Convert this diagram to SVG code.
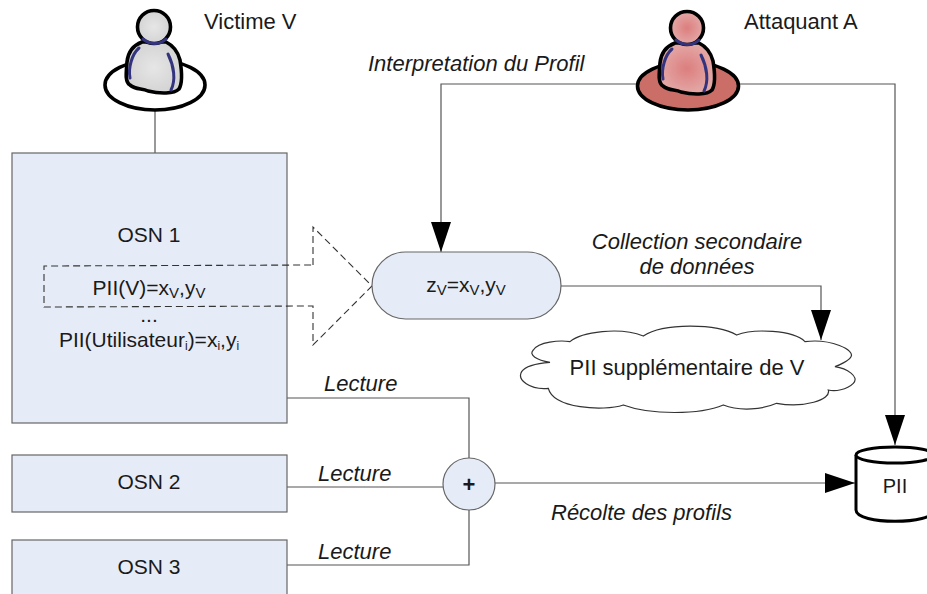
<svg xmlns="http://www.w3.org/2000/svg" width="927" height="594" viewBox="0 0 927 594">
<style>
text{font-family:"Liberation Sans",Arial,sans-serif;font-size:22px;fill:#1a1a1a}
.m{text-anchor:middle}
.i{font-style:italic}
.n{font-size:21px}
.u{font-size:20px}
.s{font-size:15px}
.t{font-size:12px}
.box{fill:#e6ecf7;stroke:#666;stroke-width:1.2}
.c{fill:none;stroke:#555;stroke-width:1.2}
.d{fill:none;stroke:#333;stroke-width:1.1;stroke-dasharray:7 4}
.o{stroke:#000;stroke-width:3.6;stroke-linejoin:round}
.b{fill:none;stroke:#34347e;stroke-width:3;stroke-linecap:round}
</style>
<defs>
<marker id="a" markerUnits="userSpaceOnUse" markerWidth="32" markerHeight="22" refX="30" refY="10" orient="auto"><path d="M0,0L30,10L0,20Z" fill="#000"/></marker>
<radialGradient id="g1"><stop offset="0" stop-color="#e6e6e6"/><stop offset="1" stop-color="#d4d4d4"/></radialGradient>
<radialGradient id="g2"><stop offset="0" stop-color="#dc7e7e"/><stop offset="1" stop-color="#e3a8a6"/></radialGradient>
<g id="fig">
<path class="o" d="M-12,-2C-20,1 -26,8 -27,18C-28,30 -29,38 -24,41C-18,46 -12,44 -6,47C6,50 20,50 25,45C28,40 28,28 26,16C24,8 20,2 12,-2Z"/>
<ellipse class="o" cx="0" cy="-17" rx="16.500" ry="16.500"/>
<path class="b" d="M-11,-5C-4,1 6,1 12,-5M-15,4C-22,10 -26,24 -24,34M14,10C20,22 22,36 17,46"/>
</g>
</defs>
<g id="connectors">
<path class="c" d="M155,110V153"/>
<path class="c" d="M640,84H441V252" marker-end="url(#a)"/>
<path class="c" d="M738,84H895V445" marker-end="url(#a)"/>
<path class="c" d="M561,286H821V340" marker-end="url(#a)"/>
<path class="c" d="M287,398H469V458"/>
<path class="c" d="M287,487H443"/>
<path class="c" d="M287,565H469V510"/>
<path class="c" d="M495,483H855" marker-end="url(#a)"/>
</g>
<g id="osn1"><rect class="box" x="12" y="153" width="275" height="270"/>
<text class="m n" x="149" y="242">OSN 1</text>
<text class="m n" x="149" y="295">PII(V)=x<tspan class="s" dy="3">V</tspan><tspan dy="-3">,y</tspan><tspan class="s" dy="3">V</tspan></text>
<text class="m n" x="149" y="322">...</text>
<text class="m n" x="149" y="347">PII(Utilisateur<tspan class="t" dy="3">i</tspan><tspan dy="-3">)=x</tspan><tspan class="t" dy="3">i</tspan><tspan dy="-3">,y</tspan><tspan class="t" dy="3">i</tspan></text></g>
<g id="osn2"><rect class="box" x="12" y="455" width="275" height="57"/><text class="m n" x="149" y="489">OSN 2</text></g>
<g id="osn3"><rect class="box" x="12" y="540" width="275" height="60"/><text class="m n" x="149" y="574">OSN 3</text></g>
<g id="extract"><path class="d" d="M313,265V227L372,286L313,345V306L44,307V266Z"/></g>
<g id="victime"><ellipse cx="155" cy="85" rx="50" ry="25" fill="#fff" stroke="#000" stroke-width="3.600"/><use href="#fig" x="154" y="44" fill="url(#g1)"/><text x="204" y="29">Victime V</text></g>
<g id="attaquant"><ellipse cx="688" cy="86" rx="50.500" ry="24" fill="#cc6e68" stroke="#000" stroke-width="3.600"/><use href="#fig" x="687" y="45" fill="url(#g2)"/><text x="744" y="29">Attaquant A</text></g>
<g id="zv"><rect class="box" x="372" y="252" width="189" height="67" rx="33.500"/><text class="m n" x="466" y="292">z<tspan class="s" dy="3">V</tspan><tspan dy="-3">=x</tspan><tspan class="s" dy="3">V</tspan><tspan dy="-3">,y</tspan><tspan class="s" dy="3">V</tspan></text></g>
<g id="cloud"><path transform="translate(510,300) scale(.3333)" fill="#fff" stroke="#333" stroke-width="3.600" d="M180,125C215,95 330,80 400,108C460,68 620,70 680,105C730,85 850,90 885,125C960,115 1040,150 1022,172C1015,182 990,195 975,200C1010,205 1050,230 1030,250C1010,270 975,275 955,270C965,300 880,325 800,310C760,328 690,335 640,315C570,345 420,345 340,315C280,335 130,325 115,265C60,270 20,240 35,215C45,200 80,190 120,187C80,180 55,165 70,150C85,125 150,120 180,125Z"/><text class="m" x="687" y="375">PII supplémentaire de V</text></g>
<g id="plus"><circle class="box" cx="469" cy="484" r="26"/><text class="m" x="469" y="492" style="font-weight:bold">+</text></g>
<g id="pii"><path d="M856,455V510C856,525 934,525 934,510V455" fill="#fff" stroke="#000" stroke-width="3"/><ellipse cx="895" cy="455" rx="39" ry="8" fill="#fff" stroke="#000" stroke-width="3"/><text class="m u" x="895" y="493">PII</text></g>
<g id="labels">
<text class="i" x="368" y="71">Interpretation du Profil</text>
<text class="i m" x="697" y="249">Collection secondaire</text>
<text class="i m" x="697" y="274">de données</text>
<text class="i" x="324" y="391">Lecture</text>
<text class="i" x="318" y="481">Lecture</text>
<text class="i" x="318" y="559">Lecture</text>
<text class="i" x="551" y="520">Récolte des profils</text>
</g>
</svg>
